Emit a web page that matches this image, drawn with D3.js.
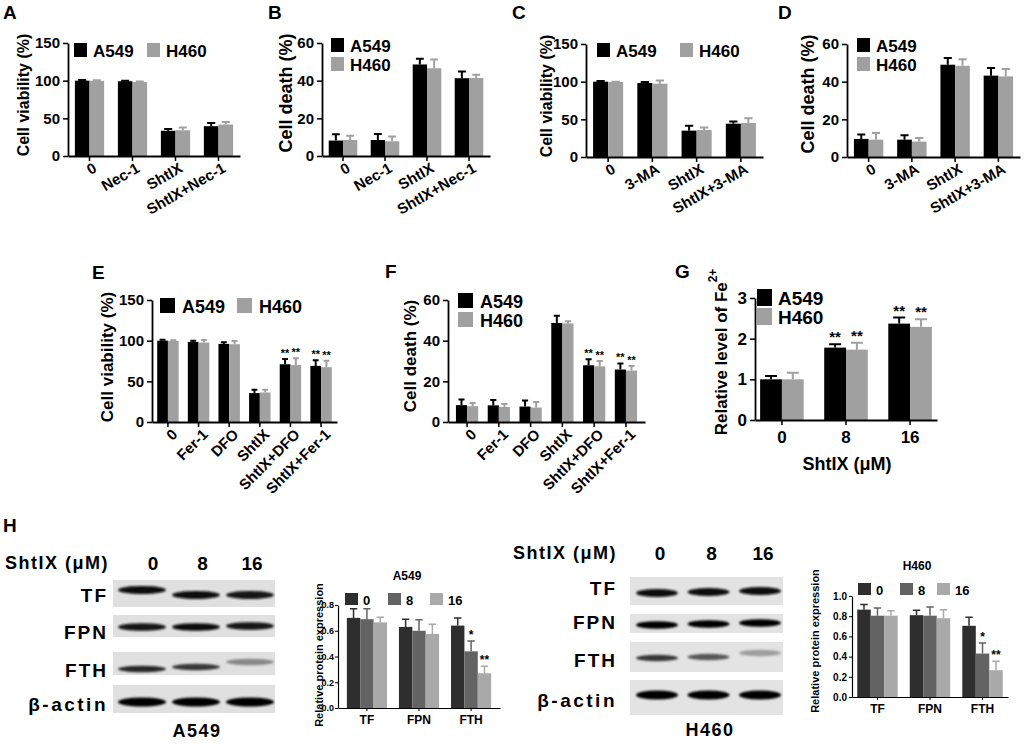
<!DOCTYPE html>
<html>
<head>
<meta charset="utf-8">
<script src="https://cdn.jsdelivr.net/npm/d3@7"></script>
<style>
  body { margin: 0; background: #fff; }
  svg { display: block; }
</style>
</head>
<body>
<svg width="1024" height="744"></svg>
<script>
// ---- data ----
const cellLines = ["A549", "H460"];
const necCats = ["0", "Nec-1", "ShtIX", "ShtIX+Nec-1"];
const maCats = ["0", "3-MA", "ShtIX", "ShtIX+3-MA"];
const ferCats = ["0", "Fer-1", "DFO", "ShtIX", "ShtIX+DFO", "ShtIX+Fer-1"];
const doseCats = ["0", "8", "16"];
const proteins = ["TF", "FPN", "FTH"];
const blotRows = ["TF", "FPN", "FTH", "β-actin"];

const viaTicks = [0, 50, 100, 150];
const deathTicks = [0, 20, 40, 60];
const feTicks = [0, 1, 2, 3];
const a549ExprTicks = [0, 0.2, 0.4, 0.6, 0.8];
const h460ExprTicks = [0, 0.2, 0.4, 0.6, 0.8, 1.0];

// A: viability with Nec-1
const aViaA549 = [100, 99.2, 33.5, 39.6];
const aViaA549Err = [0.8, 0.6, 2.5, 4.2];
const aViaH460 = [99.8, 98.2, 34.2, 41.8];
const aViaH460Err = [0.6, 0.8, 3.5, 3.4];
// B: death with Nec-1
const bDeathA549 = [8.2, 8.5, 48.6, 41.3];
const bDeathA549Err = [3.3, 3.2, 3.0, 3.6];
const bDeathH460 = [8.5, 7.8, 46.6, 41.4];
const bDeathH460Err = [2.3, 2.5, 4.6, 1.8];
// C: viability with 3-MA
const cViaA549 = [100, 98.2, 35, 44.2];
const cViaA549Err = [1, 1.2, 6.5, 3];
const cViaH460 = [99.5, 97.3, 35.8, 45.1];
const cViaH460Err = [0.5, 4.3, 3.5, 6.2];
// D: death with 3-MA
const dDeathA549 = [9.6, 9.2, 49, 43.2];
const dDeathA549Err = [2.3, 2.4, 3.6, 4.1];
const dDeathH460 = [9.2, 8.2, 48.4, 42.8];
const dDeathH460Err = [3.5, 1.9, 3.5, 3.9];
// E: viability with Fer-1 / DFO
const eViaA549 = [100, 98.5, 96, 35.5, 71, 69];
const eViaA549Err = [1, 1.4, 2, 4, 6.5, 7];
const eViaH460 = [99.8, 97.7, 95.6, 36.3, 70, 67.4];
const eViaH460Err = [0.6, 3, 4, 3.5, 8.5, 8];
const eStars = ["", "", "", "", "**", "**"];
// F: death with Fer-1 / DFO
const fDeathA549 = [8.3, 8.2, 7.6, 48.7, 27.9, 25.8];
const fDeathA549Err = [2.8, 2.6, 3, 3.5, 3, 3];
const fDeathH460 = [7.8, 7.4, 7.1, 48.5, 27.4, 25.3];
const fDeathH460Err = [1.6, 1.5, 2.7, 1, 2.6, 2.3];
const fStars = ["", "", "", "", "**", "**"];
// G: relative Fe2+
const gFeA549 = [1.0, 1.78, 2.37];
const gFeA549Err = [0.08, 0.08, 0.15];
const gFeH460 = [1.0, 1.73, 2.29];
const gFeH460Err = [0.16, 0.17, 0.19];
const gStars = ["", "**", "**"];
// H: protein expression (TF, FPN, FTH) per dose
const hA549Dose0 = [0.70, 0.63, 0.64];
const hA549Dose0Err = [0.07, 0.06, 0.06];
const hA549Dose8 = [0.69, 0.60, 0.44];
const hA549Dose8Err = [0.08, 0.085, 0.08];
const hA549Dose16 = [0.665, 0.575, 0.27];
const hA549Dose16Err = [0.04, 0.075, 0.055];
const hH460Dose0 = [0.865, 0.81, 0.705];
const hH460Dose0Err = [0.05, 0.05, 0.085];
const hH460Dose8 = [0.805, 0.805, 0.43];
const hH460Dose8Err = [0.075, 0.085, 0.105];
const hH460Dose16 = [0.805, 0.78, 0.265];
const hH460Dose16Err = [0.05, 0.085, 0.09];
const hStars8 = ["", "", "*"];
const hStars16 = ["", "", "**"];
// western blot band darkness (rows x lanes)
const a549Bands = [[0.97, 0.96, 0.94], [0.93, 0.95, 0.93], [0.88, 0.82, 0.55], [1, 1, 1]];
const h460Bands = [[0.96, 0.96, 0.97], [0.98, 0.98, 0.98], [0.82, 0.72, 0.48], [1, 1, 1]];

const FONT = "'Liberation Sans', Arial, sans-serif";
const BLACK = "#000";
const GREY = "#a0a0a0";
const DOSE_COLORS = ["#2e2e2e", "#636363", "#a9a9a9"];

const svg = d3.select("svg").attr("font-family", FONT).attr("font-weight", "bold");

const defs = svg.append("defs");
defs.append("filter").attr("id", "blur").attr("x", "-20%").attr("y", "-100%")
  .attr("width", "140%").attr("height", "300%")
  .append("feGaussianBlur").attr("stdDeviation", 0.9);

const addText = (x, y, txt, size, anchor = "start", extra = {}) => {
  const t = svg.append("text").attr("x", x).attr("y", y).attr("font-size", size)
    .attr("text-anchor", anchor).attr("dominant-baseline", "central").text(txt);
  Object.entries(extra).forEach(([k, v]) => t.attr(k, v));
  return t;
};

const drawBars = (o) => {
  const g = svg.append("g");
  const x = d3.scaleBand().domain(o.cats).range([o.x0, o.x1])
    .paddingInner(o.pi).paddingOuter(o.po);
  const xs = d3.scaleBand().domain(o.series.map((s) => s.name)).range([0, x.bandwidth()]);
  const y = d3.scaleLinear().domain(o.domain).range([o.yBase, o.yTop]);

  o.series.forEach((s) => {
    const rows = o.cats.map((c, i) => ({ c, v: s.vals[i], e: s.errs[i], st: s.stars ? s.stars[i] : "" }));
    const cx = (d) => x(d.c) + xs(s.name) + xs.bandwidth() / 2;
    const cw = xs.bandwidth() * o.capFrac / 2;
    const sg = g.append("g");
    sg.selectAll("path").data(rows).join("path")
      .attr("d", (d) => `M${cx(d)},${y(d.v)}V${y(d.v + d.e)}M${cx(d) - cw},${y(d.v + d.e)}H${cx(d) + cw}`)
      .attr("stroke", s.color).attr("stroke-width", o.errW).attr("fill", "none");
    sg.selectAll("rect").data(rows).join("rect")
      .attr("x", (d) => x(d.c) + xs(s.name))
      .attr("y", (d) => y(d.v))
      .attr("width", xs.bandwidth())
      .attr("height", (d) => y(0) - y(d.v))
      .attr("fill", s.color);
    sg.selectAll("text").data(rows.filter((d) => d.st)).join("text")
      .attr("x", cx).attr("y", (d) => y(d.v + d.e) - o.starGap)
      .attr("text-anchor", "middle").attr("font-size", o.starSize)
      .attr("fill", "#000")
      .text((d) => d.st);
  });

  const yAxis = d3.axisLeft(y).tickValues(o.ticks).tickSize(o.tick).tickSizeOuter(0)
    .tickPadding(o.tickPad || 3).tickFormat(o.fmt || d3.format("d"));
  const ya = g.append("g").attr("transform", `translate(${o.x0},0)`).call(yAxis);
  const xa = g.append("g").attr("transform", `translate(0,${o.yBase})`)
    .call(d3.axisBottom(x).tickSize(o.tick).tickSizeOuter(0).tickPadding(o.xPad || 3));
  [ya, xa].forEach((a) => {
    a.attr("font-family", FONT).attr("font-weight", "bold");
    a.select(".domain").attr("stroke-width", o.axisW);
    a.selectAll(".tick line").attr("stroke-width", o.axisW * 0.85);
  });
  ya.attr("font-size", o.yFont);
  xa.attr("font-size", o.xFont);
  if (o.rot) {
    xa.selectAll(".tick text")
      .attr("y", 0).attr("dy", "0.7em").attr("text-anchor", "end")
      .attr("transform", `translate(${o.rotDx},${o.tick + o.rotDy}) rotate(${o.rot})`);
  }

  // y title
  const t = g.append("text")
    .attr("transform", `translate(${o.titleX},${o.titleY}) rotate(-90)`)
    .attr("text-anchor", "middle").attr("dominant-baseline", "central")
    .attr("font-size", o.titleSize).text(o.title);
  if (o.titleSup) {
    t.append("tspan").attr("font-size", o.titleSize * 0.7).attr("dy", -o.titleSize * 0.45).text(o.titleSup);
  }

  // legend
  o.legend.forEach((l, i) => {
    const s = o.series[i];
    g.append("rect").attr("x", l[0]).attr("y", l[1]).attr("width", o.legSize[0])
      .attr("height", o.legSize[1]).attr("fill", s.color);
    g.append("text").attr("x", l[0] + o.legSize[0] + o.legGap).attr("y", l[1] + o.legSize[1] / 2 + 1)
      .attr("dominant-baseline", "central").attr("font-size", o.legFont).text(s.name);
  });
  return { x, y };
};

const twoLines = (a, aE, b, bE, sA, sB) => [
  { name: cellLines[0], vals: a, errs: aE, color: BLACK, stars: sA },
  { name: cellLines[1], vals: b, errs: bE, color: GREY, stars: sB },
];

const topRow = { domain: null, pi: 0.32, po: 0.16, capFrac: 0.55, errW: 2, axisW: 1.8, tick: 5,
  yFont: 15, xFont: 15, rot: -30, rotDx: 3, rotDy: 1, starGap: 3, starSize: 12,
  legSize: [13, 14], legGap: 6, legFont: 17 };

// ---- panel A ----
drawBars({ ...topRow, cats: necCats, x0: 68, x1: 240, yBase: 156, yTop: 43, domain: [0, 150], ticks: viaTicks,
  series: twoLines(aViaA549, aViaA549Err, aViaH460, aViaH460Err),
  title: "Cell viability (%)", titleX: 23, titleY: 95, titleSize: 16,
  legend: [[74, 43], [147, 43]] });
addText(3, 12, "A", 19);

// ---- panel B ----
drawBars({ ...topRow, cats: necCats, x0: 322, x1: 490, yBase: 156, yTop: 43, domain: [0, 60], ticks: deathTicks,
  series: twoLines(bDeathA549, bDeathA549Err, bDeathH460, bDeathH460Err),
  title: "Cell death (%)", titleX: 286, titleY: 93, titleSize: 18,
  legend: [[331, 38], [331, 57]] });
addText(268, 12, "B", 19);

// ---- panel C ----
drawBars({ ...topRow, cats: maCats, x0: 586, x1: 763, yBase: 157, yTop: 44, domain: [0, 150], ticks: viaTicks,
  series: twoLines(cViaA549, cViaA549Err, cViaH460, cViaH460Err),
  title: "Cell viability (%)", titleX: 546, titleY: 96, titleSize: 16,
  legend: [[597, 43], [680, 43]] });
addText(512, 12, "C", 19);

// ---- panel D ----
drawBars({ ...topRow, cats: maCats, x0: 847, x1: 1020, yBase: 157, yTop: 44, domain: [0, 60], ticks: deathTicks,
  series: twoLines(dDeathA549, dDeathA549Err, dDeathH460, dDeathH460Err),
  title: "Cell death (%)", titleX: 808, titleY: 94, titleSize: 18,
  legend: [[857, 38], [857, 57]] });
addText(778, 12, "D", 19);

const midRow = { ...topRow, rot: -45, rotDx: 3, rotDy: 1, capFrac: 0.55, starGap: 2, starSize: 11,
  legSize: [15, 15], legGap: 7, legFont: 18 };

// ---- panel E ----
drawBars({ ...midRow, cats: ferCats, x0: 152, x1: 337, yBase: 422, yTop: 300, domain: [0, 150], ticks: viaTicks,
  pi: 0.3, po: 0.17,
  series: twoLines(eViaA549, eViaA549Err, eViaH460, eViaH460Err, eStars, eStars),
  title: "Cell viability (%)", titleX: 107, titleY: 357, titleSize: 17,
  legend: [[160, 298], [237, 298]] });
addText(92, 272, "E", 19);

// ---- panel F ----
drawBars({ ...midRow, cats: ferCats, x0: 448, x1: 645, yBase: 422, yTop: 300, domain: [0, 60], ticks: deathTicks,
  pi: 0.3, po: 0.25,
  series: twoLines(fDeathA549, fDeathA549Err, fDeathH460, fDeathH460Err, fStars, fStars),
  title: "Cell death (%)", titleX: 410, titleY: 356, titleSize: 17,
  legend: [[458, 293], [458, 312]] });
addText(385, 271, "F", 19);

// ---- panel G ----
drawBars({ ...midRow, rot: 0, cats: doseCats, x0: 755, x1: 937, yBase: 420, yTop: 298, domain: [0, 3], ticks: feTicks,
  pi: 0.32, po: 0.08, yFont: 17, xFont: 17, xPad: 6, starGap: 2, starSize: 15,
  series: twoLines(gFeA549, gFeA549Err, gFeH460, gFeH460Err, gStars, gStars),
  title: "Relative level of Fe", titleSup: "2+", titleX: 721, titleY: 352, titleSize: 17,
  legSize: [15, 17], legGap: 6, legFont: 19,
  legend: [[757, 289], [757, 308]] });
addText(847, 464, "ShtIX (μM)", 18, "middle");
addText(675, 271, "G", 19);

// ---- panel H: bar charts ----
const doseSeries = (v0, e0, v8, e8, v16, e16) => [
  { name: doseCats[0], vals: v0, errs: e0, color: DOSE_COLORS[0] },
  { name: doseCats[1], vals: v8, errs: e8, color: DOSE_COLORS[1], stars: hStars8 },
  { name: doseCats[2], vals: v16, errs: e16, color: DOSE_COLORS[2], stars: hStars16 },
];
const hChart = { rot: 0, capFrac: 0.55, errW: 1.5, axisW: 1.2, tick: 3, yFont: 10, xFont: 12, tickPad: 2, xPad: 4,
  starGap: 2, starSize: 12, legSize: [13, 12], legGap: 5, legFont: 13, titleSize: 11, pi: 0.23 };

drawBars({ ...hChart, cats: proteins, x0: 338, x1: 500, yBase: 708, yTop: 605, domain: [0, 0.8], ticks: a549ExprTicks,
  fmt: d3.format(".1f"), po: 0.17, yFont: 9, tickPad: 1,
  series: doseSeries(hA549Dose0, hA549Dose0Err, hA549Dose8, hA549Dose8Err, hA549Dose16, hA549Dose16Err),
  title: "Relative protein expression", titleX: 319, titleY: 655,
  legend: [[345, 593], [388, 593], [430, 593]] });
addText(407, 576, "A549", 12, "middle");

drawBars({ ...hChart, cats: proteins, x0: 852, x1: 1008, yBase: 697, yTop: 596, domain: [0, 1], ticks: h460ExprTicks,
  fmt: d3.format(".1f"), po: 0.1,
  series: doseSeries(hH460Dose0, hH460Dose0Err, hH460Dose8, hH460Dose8Err, hH460Dose16, hH460Dose16Err),
  title: "Relative protein expression", titleX: 815, titleY: 641,
  legend: [[858, 583], [900, 583], [937, 583]] });
addText(917, 566, "H460", 12, "middle");

addText(3, 525, "H", 19);

// ---- panel H: western blots ----
const drawBlot = (o) => {
  const g = svg.append("g");
  const lane = d3.scalePoint().domain(doseCats).range(o.lanes);
  const labelX = d3.scalePoint().domain(doseCats).range(o.labelLanes);
  blotRows.forEach((r, i) => {
    const row = o.rows[i];
    g.append("rect").attr("x", o.bx0).attr("y", row[0]).attr("width", o.bx1 - o.bx0)
      .attr("height", row[1] - row[0]).attr("fill", o.bg);
    g.selectAll(null).data(doseCats).join("ellipse")
      .attr("cx", (d) => lane(d))
      .attr("cy", (d, j) => row[2][j])
      .attr("rx", o.rx)
      .attr("ry", row[3])
      .attr("fill", (d, j) => d3.interpolateGreys(o.bands[i][j]))
      .attr("filter", "url(#blur)");
    addText(o.labelRight, o.labelY[i], r, 19, "end", { "letter-spacing": r === "β-actin" ? 2.5 : 2 });
  });
  addText(o.titleX, o.titleY, "ShtIX (μM)", 18, "start", { "letter-spacing": 1.5 });
  doseCats.forEach((d) => addText(labelX(d), o.titleY, d, 19, "middle"));
  addText(o.cellX, o.cellY, o.cell, 18, "middle", { "letter-spacing": 1.5 });
};

drawBlot({ cell: cellLines[0], bands: a549Bands, bg: "#e0e0e0",
  bx0: 113, bx1: 275, lanes: [142, 250], labelLanes: [153, 252], rx: 24,
  rows: [[580, 607, [590, 595, 595], 4.0], [615, 637, [627, 627, 626], 3.8],
    [652, 675, [669, 667, 662], 3.2], [685, 713, [702, 702, 702], 4.6]],
  labelRight: 108, labelY: [595, 632, 670, 704],
  titleX: 5, titleY: 563, cellX: 197, cellY: 731 });

drawBlot({ cell: cellLines[1], bands: h460Bands, bg: "#e3e3e3",
  bx0: 630, bx1: 783, lanes: [657, 760], labelLanes: [660, 763], rx: 21,
  rows: [[577, 605, [593, 592, 591], 4.0], [614, 633, [625, 624, 623], 3.8],
    [642, 672, [658, 657, 653], 3.2], [680, 715, [695, 695, 695], 4.6]],
  labelRight: 617, labelY: [588, 622, 660, 700],
  titleX: 513, titleY: 553, cellX: 710, cellY: 730 });
</script>
</body>
</html>
